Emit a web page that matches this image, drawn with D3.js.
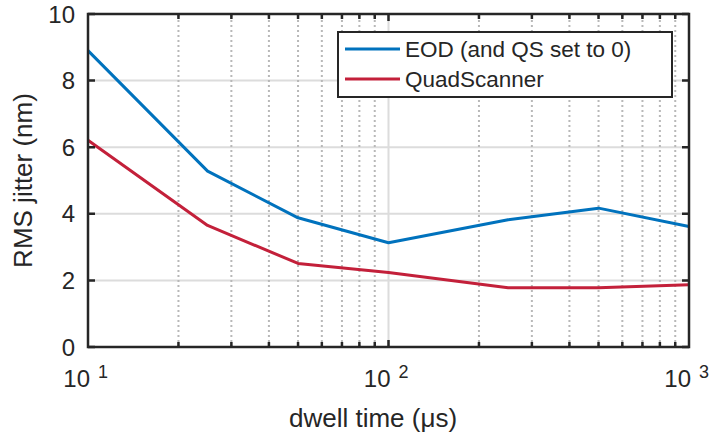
<!DOCTYPE html>
<html>
<head>
<meta charset="utf-8">
<script src="https://cdn.jsdelivr.net/npm/d3@7"></script>
<style>
  body { margin: 0; background: #fff; }
  text { font-family: "Liberation Sans", Arial, sans-serif; fill: #262626; }
</style>
</head>
<body>
<div id="chart"></div>
<script>
const dwell = [10, 25, 50, 100, 250, 500, 1000];
const eod = [8.9, 5.28, 3.88, 3.13, 3.82, 4.17, 3.62];
const quad = [6.21, 3.65, 2.51, 2.24, 1.78, 1.78, 1.87];
const yTicks = [0, 2, 4, 6, 8, 10];
const xTicks = [10, 100, 1000];
const seriesNames = ['EOD (and QS set to 0)', 'QuadScanner'];
const seriesColors = ['#0072bd', '#c3203a'];

const width = 710;
const height = 435;
const margin = { top: 14, right: 21, bottom: 88, left: 88 };

const svg = d3.select('#chart')
  .append('svg')
  .attr('width', width)
  .attr('height', height);

const x = d3.scaleLog()
  .domain([10, 1000])
  .range([margin.left, width - margin.right]);

const y = d3.scaleLinear()
  .domain([0, 10])
  .range([height - margin.bottom, margin.top]);

const minor = [];
[10, 100].forEach(d => { for (let k = 2; k <= 9; k++) minor.push(d * k); });

// grid
const grid = svg.append('g');
grid.selectAll('.hg')
  .data(yTicks.slice(1, -1))
  .join('line')
    .attr('x1', x.range()[0]).attr('x2', x.range()[1])
    .attr('y1', d => y(d)).attr('y2', d => y(d))
    .attr('stroke', '#dcdcdc').attr('stroke-width', 2);
grid.selectAll('.mg')
  .data(minor)
  .join('line')
    .attr('x1', d => x(d)).attr('x2', d => x(d))
    .attr('y1', y.range()[0]).attr('y2', y.range()[1])
    .attr('stroke', '#b8b8b8').attr('stroke-width', 2)
    .attr('stroke-dasharray', '2,3');
grid.selectAll('.vg')
  .data([100])
  .join('line')
    .attr('x1', d => x(d)).attr('x2', d => x(d))
    .attr('y1', y.range()[0]).attr('y2', y.range()[1])
    .attr('stroke', '#dcdcdc').attr('stroke-width', 2);

// lines
const line = d3.line()
  .x((d, i) => x(dwell[i]))
  .y(d => y(d));

[eod, quad].forEach((s, i) => {
  svg.append('path')
    .datum(s)
    .attr('d', line)
    .attr('fill', 'none')
    .attr('stroke', seriesColors[i])
    .attr('stroke-width', 3)
    .attr('stroke-linejoin', 'round');
});

// axes frame and ticks
const frame = svg.append('g').attr('stroke', '#262626');
frame.append('rect')
  .attr('x', x.range()[0]).attr('y', y.range()[1])
  .attr('width', x.range()[1] - x.range()[0])
  .attr('height', y.range()[0] - y.range()[1])
  .attr('fill', 'none').attr('stroke-width', 2.5);

frame.selectAll('.yt')
  .data(yTicks)
  .join('path')
    .attr('d', d => `M${x.range()[0]},${y(d)}h7M${x.range()[1]},${y(d)}h-7`)
    .attr('stroke-width', 2.5);

frame.selectAll('.xt')
  .data(minor.concat([100]))
  .join('path')
    .attr('d', d => `M${x(d)},${y.range()[0]}v-${d === 100 ? 7 : 5}M${x(d)},${y.range()[1]}v${d === 100 ? 7 : 5}`)
    .attr('stroke-width', 2.5);

// tick labels
svg.selectAll('.ylab')
  .data(yTicks)
  .join('text')
    .attr('x', x.range()[0] - 13)
    .attr('y', d => y(d))
    .attr('dy', '0.36em')
    .attr('text-anchor', 'end')
    .attr('font-size', 24)
    .text(d => d);

const xl = svg.selectAll('.xlab')
  .data(xTicks)
  .join('g')
    .attr('transform', d => `translate(${x(d)},${y.range()[0] + 40})`);
xl.append('text')
  .attr('x', 2)
  .attr('text-anchor', 'end')
  .attr('font-size', 24)
  .text('10');
xl.append('text')
  .attr('x', 10)
  .attr('y', -9)
  .attr('font-size', 18)
  .text(d => Math.round(Math.log10(d)));

// axis titles
svg.append('text')
  .attr('x', 373)
  .attr('y', 427)
  .attr('text-anchor', 'middle')
  .attr('font-size', 26)
  .text('dwell time (μs)');

svg.append('text')
  .attr('transform', `translate(32,${(y.range()[0] + y.range()[1]) / 2}) rotate(-90)`)
  .attr('text-anchor', 'middle')
  .attr('font-size', 26)
  .text('RMS jitter (nm)');

// legend
const lg = svg.append('g').attr('transform', 'translate(338,32)');
lg.append('rect')
  .attr('width', 334).attr('height', 65)
  .attr('fill', '#fff').attr('stroke', '#262626').attr('stroke-width', 2);
seriesNames.forEach((n, i) => {
  const row = lg.append('g').attr('transform', `translate(0,${17 + i * 30})`);
  row.append('line')
    .attr('x1', 7).attr('x2', 62)
    .attr('stroke', seriesColors[i]).attr('stroke-width', 3);
  row.append('text')
    .attr('x', 67)
    .attr('dy', '0.36em')
    .attr('font-size', 22.5)
    .attr('fill', '#000')
    .text(n);
});
</script>
</body>
</html>
